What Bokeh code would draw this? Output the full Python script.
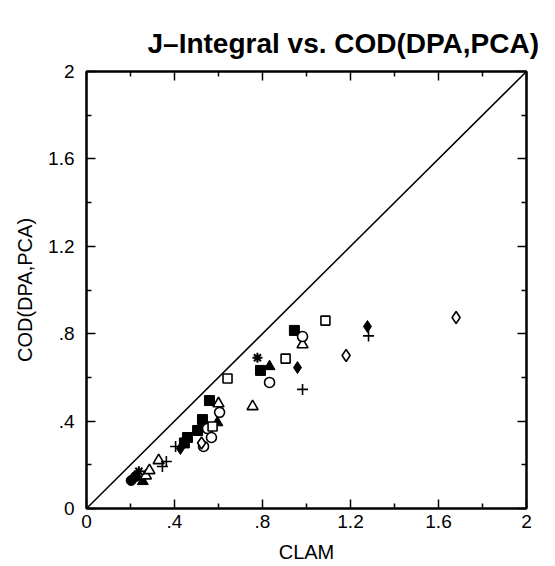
from bokeh.plotting import figure
from bokeh.models import FixedTicker, CustomJSTickFormatter, LinearAxis, Range1d
from bokeh.embed import file_html
from bokeh.resources import INLINE

# ---- data ----
filled_circle_x = [0.203, 0.223]
filled_circle_y = [0.128, 0.146]
asterisk_x = [0.238, 0.777]
asterisk_y = [0.170, 0.690]
filled_triangle_x = [0.256, 0.595, 0.832]
filled_triangle_y = [0.124, 0.393, 0.650]
open_triangle_x = [0.270, 0.286, 0.328, 0.600, 0.755, 0.982]
open_triangle_y = [0.150, 0.174, 0.220, 0.480, 0.467, 0.750]
plus_x = [0.345, 0.363, 0.405, 0.982, 1.282]
plus_y = [0.192, 0.215, 0.284, 0.545, 0.790]
filled_diamond_x = [0.427, 0.959, 1.277]
filled_diamond_y = [0.275, 0.645, 0.833]
filled_square_x = [0.445, 0.459, 0.505, 0.527, 0.559, 0.791, 0.945]
filled_square_y = [0.300, 0.325, 0.357, 0.407, 0.494, 0.632, 0.815]
open_circle_x = [0.532, 0.550, 0.568, 0.605, 0.832, 0.982]
open_circle_y = [0.284, 0.366, 0.325, 0.440, 0.577, 0.787]
open_square_x = [0.573, 0.641, 0.905, 1.086]
open_square_y = [0.375, 0.595, 0.686, 0.860]
open_diamond_x = [0.523, 1.180, 1.680]
open_diamond_y = [0.300, 0.700, 0.874]

diag_x = [0, 2]
diag_y = [0, 2]

major_ticks = [0, 0.4, 0.8, 1.2, 1.6, 2.0]
minor_ticks = [0.2, 0.6, 1.0, 1.4, 1.8]

FONT = "Liberation Sans"

p = figure(frame_width=440, frame_height=437, output_backend="svg",
           toolbar_location=None, x_range=Range1d(0, 2), y_range=Range1d(0, 2),
           min_border_left=86, min_border_right=20, min_border_top=71, min_border_bottom=10)

p.title.text = "J\u2013Integral vs. COD(DPA,PCA)"
p.title.text_font = FONT
p.title.text_font_size = "28px"
p.title.text_font_style = "bold"
p.title.text_color = "black"
p.title.align = "left"
p.title.offset = 61
p.title.standoff = 25

p.grid.visible = False
p.background_fill_color = "white"
p.border_fill_color = "white"
p.outline_line_color = "black"
p.outline_line_width = 2

fmt = CustomJSTickFormatter(code="""
if (Math.abs(tick) < 1e-9) return "0";
if (Math.abs(tick - 2) < 1e-9) return "2";
return tick.toFixed(1).replace(/^0/, "");
""")

def style_axis(ax, labels=True):
    ax.ticker = FixedTicker(ticks=major_ticks, minor_ticks=minor_ticks)
    ax.major_tick_in = 9
    ax.major_tick_out = 0
    ax.minor_tick_in = 5
    ax.minor_tick_out = 0
    ax.axis_line_color = "black"
    ax.axis_line_width = 2
    ax.major_tick_line_color = "black"
    ax.major_tick_line_width = 1.5
    ax.minor_tick_line_color = "black"
    ax.minor_tick_line_width = 1.5
    if labels:
        ax.formatter = fmt
        ax.major_label_text_font = FONT
        ax.major_label_text_font_size = "19px"
        ax.major_label_text_color = "black"
        ax.axis_label_text_font = FONT
        ax.axis_label_text_font_size = "20px"
        ax.axis_label_text_font_style = "normal"
        ax.axis_label_text_color = "black"
    else:
        ax.major_label_text_font_size = "0px"
        ax.major_label_text_color = None

style_axis(p.xaxis[0])
style_axis(p.yaxis[0])
p.xaxis.axis_label = "CLAM"
p.yaxis.axis_label = "COD(DPA,PCA)"
p.xaxis.major_label_standoff = 6
p.yaxis.major_label_standoff = 12
p.xaxis.axis_label_standoff = 10
p.yaxis.axis_label_standoff = 9

top = LinearAxis()
right = LinearAxis()
style_axis(top, labels=False)
style_axis(right, labels=False)
p.add_layout(top, "above")
p.add_layout(right, "right")

p.line(diag_x, diag_y, line_color="black", line_width=1.5)

S = 10
LW = 1.6
p.scatter(filled_circle_x, filled_circle_y, marker="circle", size=S, fill_color="black", line_color="black")
p.scatter(asterisk_x, asterisk_y, marker="asterisk", size=S, line_color="black", line_width=2)
p.scatter(filled_triangle_x, filled_triangle_y, marker="triangle", size=S + 1, fill_color="black", line_color="black")
p.scatter(open_triangle_x, open_triangle_y, marker="triangle", size=S + 1, fill_color="white", line_color="black", line_width=LW)
p.scatter(plus_x, plus_y, marker="cross", size=S + 1, line_color="black", line_width=LW)
p.scatter(filled_diamond_x, filled_diamond_y, marker="diamond", size=S + 2, fill_color="black", line_color="black")
p.scatter(filled_square_x, filled_square_y, marker="square", size=S, fill_color="black", line_color="black")
p.scatter(open_circle_x, open_circle_y, marker="circle", size=S, fill_color="white", line_color="black", line_width=LW)
p.scatter(open_square_x, open_square_y, marker="square", size=S - 1, fill_color="white", line_color="black", line_width=LW)
p.scatter(open_diamond_x, open_diamond_y, marker="diamond", size=S + 2, fill_color="white", line_color="black", line_width=LW)

open("out.html", "w").write(file_html(p, INLINE))
